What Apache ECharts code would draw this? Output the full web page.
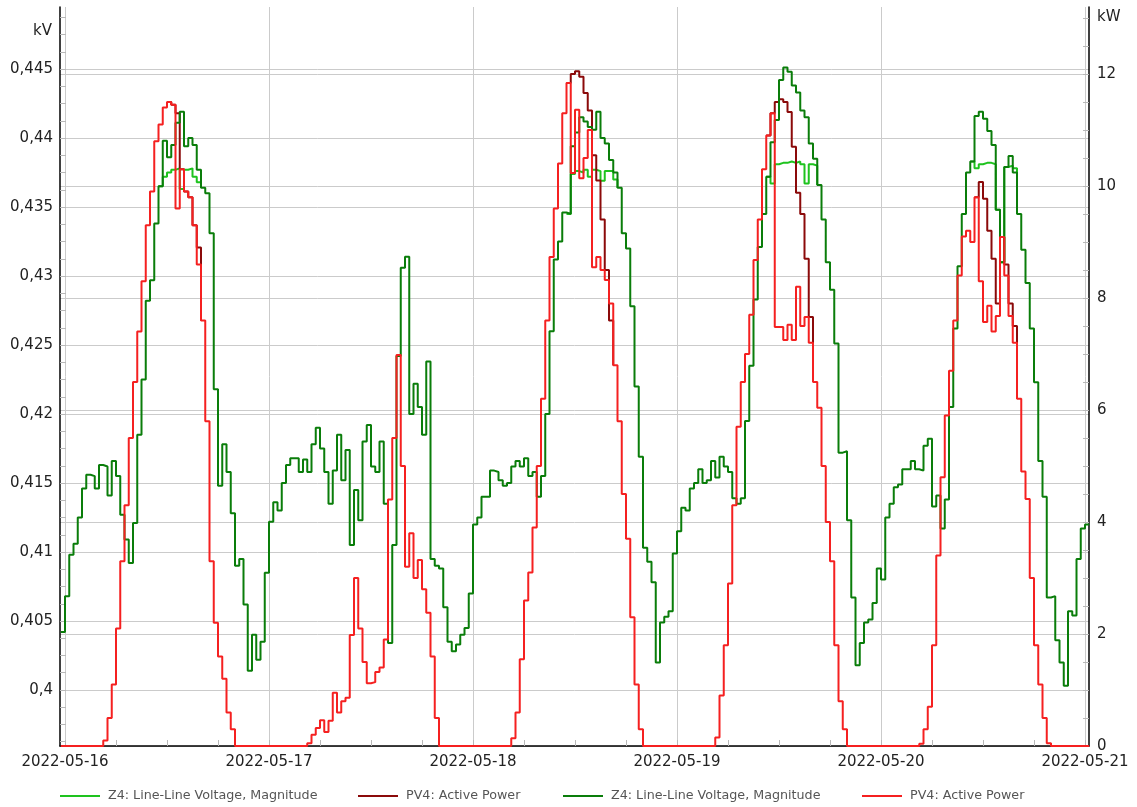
<!DOCTYPE html>
<html>
<head>
<meta charset="utf-8">
<script src="https://cdn.jsdelivr.net/npm/echarts@6/dist/echarts.min.js"></script>
<style>
  html, body { margin: 0; padding: 0; background: #ffffff; }
  #chart { width: 1137px; height: 807px; }
</style>
</head>
<body>
<div id="chart"></div>
<script>
// ---- Measured values -------------------------------------------------------
// Half-hourly readings for each day, 00:00, 00:30, ... 23:30 (48 values).

// Z4: line-line voltage magnitude, kV
const voltage16 = [0.4068, 0.4098, 0.4106, 0.4125, 0.4146, 0.4156, 0.4155, 0.4146, 0.4163, 0.4162, 0.4141, 0.4166,
                   0.4155, 0.4127, 0.4109, 0.4092, 0.4121, 0.4185, 0.4225, 0.4282, 0.4297, 0.4338, 0.4365, 0.4398,
                   0.4386, 0.4395, 0.4411, 0.4419, 0.4394, 0.4400, 0.4395, 0.4377, 0.4364, 0.4360, 0.4331, 0.4218,
                   0.4148, 0.4178, 0.4158, 0.4128, 0.4090, 0.4095, 0.4062, 0.4014, 0.4040, 0.4022, 0.4035, 0.4085];
const voltage17 = [0.4122, 0.4136, 0.4130, 0.4150, 0.4163, 0.4168, 0.4168, 0.4158, 0.4167, 0.4158, 0.4178, 0.4190,
                   0.4175, 0.4158, 0.4135, 0.4159, 0.4185, 0.4152, 0.4174, 0.4105, 0.4145, 0.4123, 0.4180, 0.4192,
                   0.4162, 0.4158, 0.4180, 0.4135, 0.4034, 0.4105, 0.4242, 0.4306, 0.4314, 0.4200, 0.4222, 0.4205,
                   0.4185, 0.4238, 0.4095, 0.4090, 0.4088, 0.4060, 0.4035, 0.4028, 0.4033, 0.4040, 0.4045, 0.4070];
const voltage18 = [0.4120, 0.4125, 0.4140, 0.4140, 0.4159, 0.4158, 0.4152, 0.4148, 0.4150, 0.4162, 0.4166, 0.4162,
                   0.4168, 0.4155, 0.4158, 0.4140, 0.4155, 0.4200, 0.4260, 0.4312, 0.4325, 0.4346, 0.4345, 0.4394,
                   0.4404, 0.4415, 0.4412, 0.4408, 0.4406, 0.4419, 0.4400, 0.4396, 0.4384, 0.4375, 0.4364, 0.4331,
                   0.4320, 0.4278, 0.4220, 0.4169, 0.4103, 0.4093, 0.4078, 0.4020, 0.4049, 0.4053, 0.4057, 0.4099];
const voltage19 = [0.4115, 0.4132, 0.4130, 0.4146, 0.4150, 0.4160, 0.4150, 0.4152, 0.4166, 0.4154, 0.4169, 0.4162,
                   0.4158, 0.4139, 0.4135, 0.4139, 0.4195, 0.4235, 0.4283, 0.4321, 0.4345, 0.4372, 0.4397, 0.4413,
                   0.4442, 0.4451, 0.4448, 0.4438, 0.4433, 0.4420, 0.4415, 0.4396, 0.4385, 0.4366, 0.4341, 0.4310,
                   0.4290, 0.4251, 0.4172, 0.4173, 0.4123, 0.4067, 0.4018, 0.4034, 0.4049, 0.4051, 0.4063, 0.4088];
const voltage20 = [0.4080, 0.4125, 0.4135, 0.4147, 0.4149, 0.4160, 0.4160, 0.4166, 0.4160, 0.4159, 0.4177, 0.4182,
                   0.4133, 0.4141, 0.4117, 0.4138, 0.4205, 0.4262, 0.4307, 0.4345, 0.4375, 0.4383, 0.4416, 0.4419,
                   0.4414, 0.4405, 0.4395, 0.4348, 0.4310, 0.4379, 0.4387, 0.4375, 0.4345, 0.4319, 0.4295, 0.4262,
                   0.4223, 0.4166, 0.4140, 0.4067, 0.4068, 0.4036, 0.4020, 0.4003, 0.4057, 0.4054, 0.4095, 0.4117];
const voltageBefore = 0.4042;   // 2022-05-15 23:30
const voltageAfter = 0.4120;    // 2022-05-21 00:00

// PV4: active power, kW
const power16 = [0, 0, 0, 0, 0, 0, 0, 0, 0, 0.1, 0.5, 1.1,
                 2.1, 3.3, 4.3, 5.5, 6.5, 7.4, 8.3, 9.3, 9.9, 10.8, 11.1, 11.4,
                 11.5, 11.45, 9.6, 10.3, 9.9, 9.8, 9.3, 8.6, 7.6, 5.8, 3.3, 2.2,
                 1.6, 1.2, 0.6, 0.3, 0, 0, 0, 0, 0, 0, 0, 0];
const power17 = [0, 0, 0, 0, 0, 0, 0, 0, 0, 0.05, 0.2, 0.32,
                 0.46, 0.25, 0.45, 0.95, 0.6, 0.8, 0.86, 1.98, 3.0, 2.1, 1.5, 1.12,
                 1.14, 1.32, 1.4, 1.9, 4.4, 5.5, 6.98, 5.0, 3.2, 3.8, 3.0, 3.32,
                 2.8, 2.38, 1.6, 0.5, 0, 0, 0, 0, 0, 0, 0, 0];
const power18 = [0, 0, 0, 0, 0, 0, 0, 0, 0, 0.14, 0.6, 1.55,
                 2.6, 3.1, 3.9, 5.0, 6.2, 7.6, 8.73, 9.6, 10.4, 11.3, 11.84, 10.23,
                 11.36, 10.14, 10.5, 11.0, 8.55, 8.73, 8.5, 8.32, 7.9, 6.8, 5.8, 4.5,
                 3.7, 2.3, 1.1, 0.3, 0, 0, 0, 0, 0, 0, 0, 0];
const power19 = [0, 0, 0, 0, 0, 0, 0, 0, 0, 0.15, 0.9, 1.8,
                 2.9, 4.3, 5.7, 6.5, 7.0, 7.7, 8.68, 9.4, 10.3, 10.9, 11.3, 7.48,
                 7.48, 7.25, 7.52, 7.25, 8.2, 7.5, 7.66, 7.2, 6.5, 6.04, 5.0, 4.0,
                 3.3, 1.8, 0.8, 0.3, 0, 0, 0, 0, 0, 0, 0, 0];
const power20 = [0, 0, 0, 0, 0, 0, 0, 0, 0, 0.04, 0.3, 0.7,
                 1.8, 3.4, 4.8, 5.9, 6.7, 7.6, 8.4, 9.1, 9.2, 9.0, 9.8, 8.3,
                 7.57, 7.86, 7.4, 7.68, 9.09, 8.4, 7.68, 7.2, 6.2, 4.9, 4.41, 3.0,
                 1.8, 1.1, 0.5, 0.05, 0, 0, 0, 0, 0, 0, 0, 0];

// Midday stretches of the second voltage / power traces: [hour of day, value].
// Outside these windows they coincide with the traces above.
const limitedVoltage16 = [[11, 0.4365], [11.5, 0.4372], [12, 0.4375], [12.5, 0.4377], [13, 0.4378], [13.5, 0.4363],
                          [14, 0.4377], [14.5, 0.4378], [15, 0.4372], [15.5, 0.4368], [16, 0.4364]];
const limitedVoltage18 = [[11, 0.4345], [11.5, 0.4374], [12, 0.4376], [12.5, 0.4375], [13, 0.4377], [13.5, 0.4372],
                          [14, 0.4377], [14.5, 0.4376], [15, 0.4369], [15.5, 0.4376], [16, 0.4376], [16.5, 0.4370], [17, 0.4364]];
const limitedVoltage19 = [[10.5, 0.4372], [11, 0.4367], [11.5, 0.4381], [12, 0.4382], [12.5, 0.4382], [13, 0.4383],
                          [13.5, 0.4382], [14, 0.4383], [14.5, 0.4381], [15, 0.4367], [15.5, 0.4381], [16, 0.4380], [16.5, 0.4366]];
const limitedVoltage20 = [[10.5, 0.4383], [11, 0.4378], [11.5, 0.4381], [12, 0.4382], [12.5, 0.4382], [13, 0.4381],
                          [13.5, 0.4348], [14, 0.4310], [14.5, 0.4379], [15, 0.4380], [15.5, 0.4378], [16, 0.4345]];

const smoothPower16 = [[12, 11.5], [12.5, 11.45], [13, 11.3], [13.5, 10.3], [14, 9.9], [14.5, 9.8], [15, 9.3], [15.5, 8.9], [16, 7.6]];
const smoothPower18 = [[11, 11.84], [11.5, 12.0], [12, 12.05], [12.5, 11.95], [13, 11.66], [13.5, 11.35], [14, 10.55],
                       [14.5, 10.1], [15, 9.4], [15.5, 8.5], [16, 7.6], [16.5, 6.8]];
const smoothPower19 = [[10.5, 10.9], [11, 11.3], [11.5, 11.5], [12, 11.55], [12.5, 11.5], [13, 11.32], [13.5, 10.7],
                       [14, 9.88], [14.5, 9.5], [15, 8.7], [15.5, 7.66], [16, 6.5]];
const smoothPower20 = [[11, 9.8], [11.5, 10.07], [12, 9.77], [12.5, 9.2], [13, 8.7], [13.5, 7.9], [14, 9.09],
                       [14.5, 8.6], [15, 7.9], [15.5, 7.5], [16, 6.2]];

// Axis ticks
const kvTicks = [0.4, 0.405, 0.41, 0.415, 0.42, 0.425, 0.43, 0.435, 0.44, 0.445];
const kwTicks = [0, 2, 4, 6, 8, 10, 12];
const dayLabels = ['2022-05-16', '2022-05-17', '2022-05-18', '2022-05-19', '2022-05-20', '2022-05-21'];
const legendLabels = ['Z4: Line-Line Voltage, Magnitude', 'PV4: Active Power',
                      'Z4: Line-Line Voltage, Magnitude', 'PV4: Active Power'];

// ---- Helpers -------------------------------------------------------------
// The horizontal axis counts hours from 2022-05-16 00:00.
const dayStart = i => i * 24;

function halfHourly(dayIndex, values) {
  return values.map((v, k) => [dayStart(dayIndex) + k * 0.5, v]);
}
function fullTrace(days, before, after) {
  let out = [[dayStart(0) - 0.5, before]];
  days.forEach((vals, i) => { out = out.concat(halfHourly(i, vals)); });
  out.push([dayStart(days.length), after]);
  out.push([dayStart(days.length) + 0.5, after]);
  return out;
}
// Each window ends where it rejoins the full trace; a gap separates the windows.
function windows(list) {
  let out = [];
  list.forEach(([dayIndex, pairs]) => {
    pairs.forEach(([h, v]) => out.push([dayStart(dayIndex) + h, v]));
    const lastHour = pairs[pairs.length - 1][0];
    out.push([dayStart(dayIndex) + lastHour + 0.001, null]);
  });
  return out;
}

// ---- Axis extents ----------------------------------------------------------
const xMin = -35.3 / 60;
const xMax = 120 + 28.2 / 60;
const kvMin = 0.395942, kvMax = 0.449493;
const kwMin = 0, kwMax = 13.196;

const dayMarks = dayLabels.map((d, i) => dayStart(i));
const sixHourMarks = [];
for (let h = 0; h <= 120; h += 6) sixHourMarks.push(h);
const kvMinor = [];
for (let k = Math.ceil(kvMin / 0.00125); k * 0.00125 <= kvMax; k++) kvMinor.push(+(k * 0.00125).toFixed(5));
const kwMinor = [];
for (let v = 0; v <= kwMax; v += 0.5) kwMinor.push(v);

// ---- Chart -----------------------------------------------------------------
const FONT = 'DejaVu Sans';
const GRID_COLOR = '#cbcbcb';
const TICK_COLOR = '#b8b8b8';
const colors = ['#1ec31e', '#8b0a0a', '#0a7d0a', '#f52020'];
const names = ['z4Limited', 'pv4Smooth', 'z4', 'pv4'];

const chart = echarts.init(document.getElementById('chart'), null, { renderer: 'canvas' });

const seriesData = [
  windows([[0, limitedVoltage16], [2, limitedVoltage18], [3, limitedVoltage19], [4, limitedVoltage20]]),
  windows([[0, smoothPower16], [2, smoothPower18], [3, smoothPower19], [4, smoothPower20]]),
  fullTrace([voltage16, voltage17, voltage18, voltage19, voltage20], voltageBefore, voltageAfter),
  fullTrace([power16, power17, power18, power19, power20], 0, 0)
];
const yIndex = [0, 2, 0, 2];

const legendLeft = [60, 358, 563, 862];

chart.setOption({
  animation: false,
  backgroundColor: '#ffffff',
  grid: { left: 60, right: 48, top: 7, bottom: 61, containLabel: false },
  legend: names.map((n, i) => ({
    data: [n],
    left: legendLeft[i],
    top: 788,
    padding: 0,
    icon: 'rect',
    itemWidth: 40,
    itemHeight: 2,
    selectedMode: false,
    formatter: () => legendLabels[i],
    textStyle: { fontFamily: FONT, fontSize: 12.7, color: '#555555', padding: [0, 0, 0, 3], lineHeight: 16 }
  })),
  xAxis: [
    {
      type: 'value', min: xMin, max: xMax,
      axisLine: { show: true, onZero: false, lineStyle: { color: '#000000', width: 1.5 } },
      axisTick: { show: false, customValues: dayMarks },
      axisLabel: {
        customValues: dayMarks, formatter: v => dayLabels[Math.round(v / 24)],
        fontFamily: FONT, fontSize: 15, color: '#222222', margin: 9
      },
      splitLine: { show: true, lineStyle: { color: GRID_COLOR, width: 1 } }
    },
    {
      type: 'value', min: xMin, max: xMax, position: 'bottom',
      axisLine: { show: false, onZero: false },
      axisTick: { show: true, inside: true, length: 6, customValues: sixHourMarks, lineStyle: { color: TICK_COLOR } },
      axisLabel: { show: false },
      splitLine: { show: false }
    }
  ],
  yAxis: [
    {
      type: 'value', position: 'left', min: kvMin, max: kvMax,
      axisLine: { show: true, onZero: false, lineStyle: { color: '#000000', width: 1.5 } },
      axisTick: { show: true, inside: true, length: 6, customValues: kvTicks, lineStyle: { color: TICK_COLOR } },
      axisLabel: {
        customValues: kvTicks, formatter: v => String(+v.toFixed(3)).replace('.', ','),
        fontFamily: FONT, fontSize: 15, color: '#222222', margin: 7
      },
      splitLine: { show: true, lineStyle: { color: GRID_COLOR, width: 1 } }
    },
    {
      type: 'value', position: 'left', min: kvMin, max: kvMax,
      axisLine: { show: false, onZero: false },
      axisTick: { show: true, inside: true, length: 6, customValues: kvMinor, lineStyle: { color: TICK_COLOR } },
      axisLabel: { show: false },
      splitLine: { show: false }
    },
    {
      type: 'value', position: 'right', min: kwMin, max: kwMax,
      axisLine: { show: true, onZero: false, lineStyle: { color: '#000000', width: 1.5 } },
      axisTick: { show: true, inside: true, length: 6, customValues: kwTicks, lineStyle: { color: TICK_COLOR } },
      axisLabel: {
        customValues: kwTicks, formatter: v => String(v),
        fontFamily: FONT, fontSize: 15, color: '#222222', margin: 8
      },
      splitLine: { show: true, lineStyle: { color: GRID_COLOR, width: 1 } }
    },
    {
      type: 'value', position: 'right', min: kwMin, max: kwMax,
      axisLine: { show: false, onZero: false },
      axisTick: { show: true, inside: true, length: 6, customValues: kwMinor, lineStyle: { color: TICK_COLOR } },
      axisLabel: { show: false },
      splitLine: { show: false }
    }
  ],
  graphic: [
    { type: 'text', left: 33, top: 24, style: { text: 'kV', font: '15px "DejaVu Sans"', fill: '#222222' } },
    { type: 'text', left: 1097, top: 10, style: { text: 'kW', font: '15px "DejaVu Sans"', fill: '#222222' } }
  ],
  series: names.map((n, i) => ({
    name: n,
    type: 'line',
    step: 'end',
    xAxisIndex: 0,
    yAxisIndex: yIndex[i],
    showSymbol: false,
    symbol: 'none',
    connectNulls: false,
    data: seriesData[i],
    lineStyle: { color: colors[i], width: 2 },
    itemStyle: { color: colors[i] },
    emphasis: { disabled: true },
    silent: true
  }))
});
</script>
</body>
</html>
